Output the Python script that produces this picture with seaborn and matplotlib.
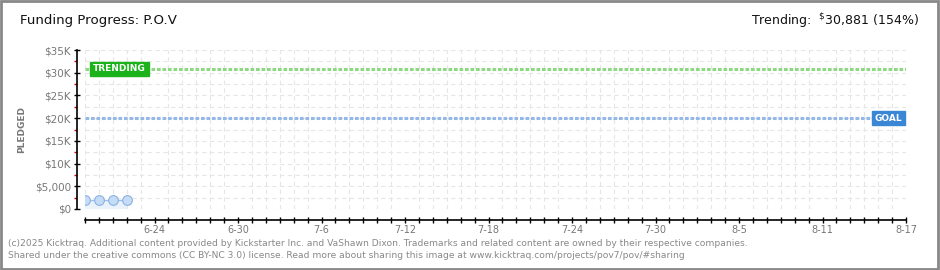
import matplotlib
matplotlib.use("Agg")
import matplotlib.pyplot as plt
import matplotlib.dates as mdates
import matplotlib.ticker as mticker
from matplotlib.patches import Rectangle
import seaborn as sns
import pandas as pd

# ---- data ----
dates = ["2025-06-19", "2025-06-20", "2025-06-21", "2025-06-22"]
pledged = [1900, 1900, 1900, 1900]
goal = 20000
trending = 30881
trending_pct = 154
x_start = "2025-06-19"
x_end = "2025-08-17"
title = "Funding Progress: P.O.V"
footer1 = ("(c)2025 Kicktraq. Additional content provided by Kickstarter Inc. and VaShawn Dixon. "
           "Trademarks and related content are owned by their respective companies.")
footer2 = ("Shared under the creative commons (CC BY-NC 3.0) license. Read more about sharing this image at "
           "www.kicktraq.com/projects/pov7/pov/#sharing")

df = pd.DataFrame({"date": pd.to_datetime(dates), "pledged": pledged})

sns.set_theme(style="white")
plt.rcParams["font.family"] = ["DejaVu Sans"]

W, H = 940, 270
PX = 72 / 100  # points per pixel
fig = plt.figure(figsize=(W / 100, H / 100), dpi=100)
fig.patch.set_facecolor("white")
ax = fig.add_axes([85 / W, 1 - 209 / H, (906 - 85) / W, (209 - 50) / H])

xs = pd.Timestamp(x_start)
xe = pd.Timestamp(x_end)
ax.set_xlim(xs, xe)
ax.set_ylim(0, 35000)

grid_kw = dict(color="#e6e6e6", linestyle=(0, (4, 3)), linewidth=0.8)

# goal and trending lines
ax.axhline(goal, color="#94b9e6", linewidth=2.2, linestyle=(0, (1.2, 0.6)), zorder=2)
ax.axhline(trending, color="#8fd685", linewidth=2.2, linestyle=(0, (1.2, 0.6)), zorder=2)

# data
ax.fill_between(df["date"], df["pledged"], 0, color="#eaf2fc", zorder=2, linewidth=0)
sns.lineplot(data=df, x="date", y="pledged", ax=ax, color="#9cc0ea", linewidth=1,
             marker="o", markersize=7, markerfacecolor="#c4dcf6", markeredgecolor="#8cb2e0",
             markeredgewidth=0.8, zorder=3)
ax.set_xlabel("")
ax.set_ylabel("PLEDGED", fontsize=6.5, color="#777777", fontweight="bold")
ax.yaxis.set_label_coords(-0.072, 0.5)

# spines
for s in ["top", "right"]:
    ax.spines[s].set_visible(False)
ax.spines["bottom"].set_position(("outward", 11 * PX))
ax.spines["left"].set_position(("outward", 8 * PX))
for s in ["bottom", "left"]:
    ax.spines[s].set_color("black")
    ax.spines[s].set_linewidth(1.2)

# x ticks: daily minor, labels every 6 days
ax.xaxis.set_minor_locator(mdates.DayLocator(interval=1))
label_days = pd.date_range("2025-06-24", x_end, freq="6D")
ax.set_xticks(label_days)
ax.set_xticklabels([f"{d.month}-{d.day}" for d in label_days])
ax.tick_params(axis="x", which="both", direction="inout", length=6 * PX, width=1, color="black",
               labelsize=7, labelcolor="#777777", pad=2 * PX, bottom=True)
ax.grid(True, axis="x", which="minor", **grid_kw)
ax.grid(False, axis="x", which="major")

# y ticks
ax.set_yticks([0, 5000, 10000, 15000, 20000, 25000, 30000, 35000])
ax.set_yticklabels(["$0", "$5,000", "$10K", "$15K", "$20K", "$25K", "$30K", "$35K"])
ax.yaxis.set_minor_locator(mticker.FixedLocator([2500, 7500, 12500, 17500, 22500, 27500, 32500]))
ax.tick_params(axis="y", which="major", direction="inout", length=6 * PX, width=1, color="black",
               labelsize=7.5, labelcolor="#777777", pad=3 * PX, left=True)
ax.tick_params(axis="y", which="minor", direction="out", length=3 * PX, width=1, color="#dd0000", left=True)
ax.grid(True, axis="y", which="both", **grid_kw)
ax.set_axisbelow(True)

# labels
ax.text(pd.Timestamp("2025-06-19 14:00"), trending, "TRENDING", color="white", fontsize=6.5,
        fontweight="bold", va="center", ha="left", zorder=5,
        bbox=dict(boxstyle="square,pad=0.3", fc="#1bb21b", ec="#1bb21b"))
ax.text(pd.Timestamp("2025-08-16 18:00"), goal, "GOAL", color="white", fontsize=6.5,
        fontweight="bold", va="center", ha="right", zorder=5,
        bbox=dict(boxstyle="square,pad=0.3", fc="#3a87d6", ec="#3a87d6"))

# title & trending header
fig.text(20 / W, 1 - 21 / H, title, fontsize=9.6, color="#111111", va="center", ha="left")
fig.text(919 / W, 1 - 21 / H, f"Trending:  $\\mathregular{{^{{\\$}}}}${trending:,} ({trending_pct}%)",
         fontsize=9, color="#111111", va="center", ha="right")

# footer
fig.text(8 / W, 1 - 243 / H, footer1, fontsize=6.6, color="#888888", va="center", ha="left")
fig.text(8 / W, 1 - 256 / H, footer2, fontsize=6.6, color="#888888", va="center", ha="left")

# border
fig.patches.append(Rectangle((0.001, 0.002), 0.997, 0.995, transform=fig.transFigure,
                             fill=False, ec="#888888", lw=2))

fig.savefig("out.png", dpi=100, facecolor="white")
